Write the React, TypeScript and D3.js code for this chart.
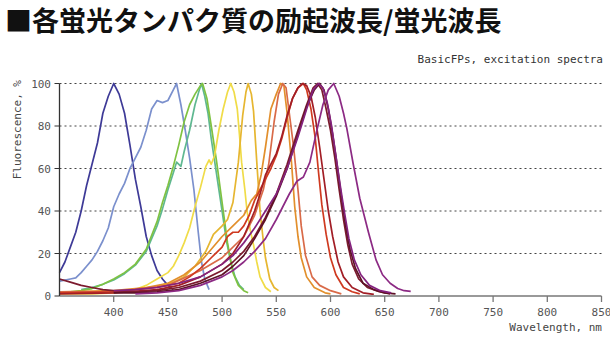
import React from "react";
import * as d3 from "d3";

const W = 610;
const H = 338;

const titleText = "■各蛍光タンパク質の励起波長/蛍光波長";
const subtitleText = "BasicFPs, excitation spectra";
const xTitle = "Wavelength, nm";
const yTitle = "Fluorescence, %";
const xTicks = [400, 450, 500, 550, 600, 650, 700, 750, 800, 850];
const yTicks = [0, 20, 40, 60, 80, 100];

type P = [number, number];

const indigo: P[] = [[350,11],[355,16],[360,23],[365,30],[370,40],[375,52],[380,62],[385,72],[390,86],[395,94],[400,100],[405,95],[410,86],[415,71],[420,55],[425,42],[430,28],[435,19],[440,12],[445,8],[450,5],[455,3]];
const lightBlue: P[] = [[350,7],[355,7.5],[360,8],[365,8.5],[370,11],[375,14],[380,17],[385,21],[390,26],[395,32],[400,42],[405,48],[410,53],[415,60],[420,65],[425,70],[430,78],[435,88],[440,92],[445,91],[450,92],[455,97],[458,100],[462,90],[466,78],[470,65],[474,50],[478,30],[481,16],[484,8],[488,3]];
const green: P[] = [[350,1.5],[360,2],[370,2.5],[380,3.5],[390,5.5],[400,8],[410,11],[420,15],[430,22],[440,35],[445,44],[450,52],[455,61],[460,71],[465,82],[470,90],[475,95],[480,99],[482,100],[486,93],[490,80],[495,63],[500,44],[505,25],[510,11],[515,5],[520,2.5],[524,1.5]];
const teal: P[] = [[370,3],[380,4],[390,5.5],[400,7.5],[410,10.5],[420,14.5],[430,21],[440,33],[445,41],[450,50],[455,58],[458,63],[462,61],[465,68],[470,78],[475,90],[479,97],[481,100],[484,94],[487,86],[490,74],[495,57],[500,40],[504,26],[508,16],[512,9],[516,5],[520,3]];
const yellow: P[] = [[350,1],[380,1],[400,1.5],[420,3],[430,5],[440,8],[450,11],[455,14],[460,19],[465,25],[470,32],[475,42],[480,51],[485,61],[488,64],[490,62],[493,66],[497,78],[501,88],[505,96],[508,100],[511,96],[514,88],[516,76],[518,63],[521,50],[523,40],[526,31],[529,24],[532,16],[535,9],[540,4],[545,2]];
const gold: P[] = [[350,1.5],[380,1.5],[400,2],[420,3],[440,4.5],[455,6.5],[465,9],[475,14],[485,21],[492,29],[500,33],[505,36],[510,44],[515,63],[519,85],[522,96],[524,100],[527,95],[529,87],[532,63],[535,40],[538,26],[540,18],[544,8],[548,4],[552,2.5]];
const orange: P[] = [[350,2],[400,2.5],[430,4],[450,6],[465,10],[480,16],[490,22],[500,28],[510,33],[520,38],[527,45],[532,48],[536,57],[540,70],[545,88],[550,95],[554,100],[557,99],[560,86],[564,63],[567,42],[570,28],[573,18],[578,9],[585,4],[595,1.5],[600,1]];
const coral: P[] = [[350,2],[400,2],[450,5],[480,12],[500,18],[520,28],[530,38],[538,50],[543,62],[548,82],[552,95],[556,100],[559,98],[562,86],[566,70],[570,50],[573,33],[577,19],[583,9],[590,5],[600,2.5],[610,1]];
const red: P[] = [[350,1.5],[400,2],[440,4],[460,6],[470,9],[480,13],[490,18],[500,23],[505,28],[510,30],[515,30],[520,33],[525,38],[530,45],[535,50],[540,55],[545,60],[550,66],[555,74],[560,84],[565,93],[570,98],[575,100],[578,97],[582,88],[586,74],[589,58],[592,43],[596,29],[600,18],[605,10],[612,4],[620,2],[627,1]];
const darkRed: P[] = [[350,1],[400,1.5],[440,3],[460,5],[480,9],[500,15],[510,20],[520,28],[530,40],[535,48],[540,57],[545,62],[550,67],[555,75],[560,85],[565,93],[570,98],[574,100],[578,99],[582,94],[586,84],[590,70],[594,55],[598,40],[602,28],[607,16],[612,9],[620,4],[630,1.5],[640,0.8]];
const maroon: P[] = [[350,8],[360,6.5],[370,5],[380,4],[390,3],[400,2.5],[420,2],[440,2.5],[460,4],[480,7],[500,12],[510,16],[520,21],[530,28],[540,37],[550,48],[560,62],[570,78],[578,90],[584,98],[588,100],[592,97],[596,88],[600,78],[604,65],[608,50],[612,36],[616,24],[620,15],[626,8],[634,4],[645,2],[655,1]];
const darkMaroon: P[] = [[400,1.5],[420,1.5],[440,2],[460,3],[480,6],[500,10],[510,14],[520,19],[530,27],[540,36],[550,47],[560,60],[570,76],[578,89],[585,97],[590,100],[594,97],[598,88],[602,76],[606,62],[610,47],[614,33],[618,22],[623,13],[630,6],[640,3],[650,1.5],[660,1]];
const purple: P[] = [[400,2.5],[420,3],[440,4],[460,6],[480,9],[500,15],[510,19],[520,25],[530,32],[540,40],[550,48],[560,60],[570,75],[578,88],[584,97],[589,100],[593,98],[597,91],[601,80],[605,66],[609,52],[613,39],[617,27],[622,17],[628,10],[636,5],[646,2.5],[656,1.5]];
const purple2: P[] = [[420,1],[440,1.5],[460,2.5],[480,5],[500,9],[510,12],[520,16],[530,21],[540,27],[550,36],[556,42],[562,48],[569,54],[575,56],[581,63],[587,77],[593,90],[598,97],[603,100],[608,94],[612,86],[615,79],[621,62],[627,46],[635,30],[642,17],[648,10],[655,6],[662,3.5],[668,2.5],[674,2.2]];

const series: { data: P[]; color: string }[] = [
  { data: indigo, color: "#3e3a97" },
  { data: lightBlue, color: "#7b90cd" },
  { data: teal, color: "#5fb891" },
  { data: green, color: "#7fc242" },
  { data: yellow, color: "#f0dc48" },
  { data: gold, color: "#e6b630" },
  { data: orange, color: "#e28f2c" },
  { data: coral, color: "#d96a48" },
  { data: red, color: "#cf3a20" },
  { data: darkRed, color: "#a21e26" },
  { data: maroon, color: "#7c1a2e" },
  { data: darkMaroon, color: "#5e1226" },
  { data: purple, color: "#84227e" },
  { data: purple2, color: "#8c2a84" },
];

const MONO = "'DejaVu Sans Mono', monospace";

export default function App() {
  const x = d3.scaleLinear().domain([350, 850]).range([59.5, 601.5]);
  const y = d3.scaleLinear().domain([0, 100]).range([296, 83.5]);
  const line = d3
    .line<P>()
    .x((d) => x(d[0]))
    .y((d) => y(d[1]));

  return (
    <svg
      width={W}
      height={H}
      style={{ position: "absolute", left: 0, top: 0, background: "#fff" }}
    >
      <text
        x={5}
        y={31}
        fontFamily="'Noto Sans CJK JP', sans-serif"
        fontWeight={700}
        fontSize={27}
        fill="#111"
      >
        {titleText}
      </text>
      <text x={603} y={63} textAnchor="end" fontFamily={MONO} fontSize={11} fill="#333">
        {subtitleText}
      </text>
      {yTicks.filter((t) => t > 0).map((t) => (
        <line
          key={"g" + t}
          x1={x(350)}
          x2={x(850)}
          y1={y(t)}
          y2={y(t)}
          stroke="#444"
          strokeWidth={1}
          strokeDasharray="2,3"
        />
      ))}
      {series.map((s, i) => (
        <path
          key={i}
          d={line(s.data) || ""}
          fill="none"
          stroke={s.color}
          strokeWidth={1.7}
          strokeLinejoin="round"
        />
      ))}
      <line x1={x(350)} x2={x(850)} y1={y(0)} y2={y(0)} stroke="#999" strokeWidth={2} />
      {xTicks.map((t) => (
        <g key={"x" + t}>
          <line x1={x(t)} x2={x(t)} y1={y(0)} y2={y(0) + 6} stroke="#777" strokeWidth={1.3} />
          <text x={x(t)} y={316} textAnchor="middle" fontFamily={MONO} fontSize={11} fill="#555">
            {t}
          </text>
        </g>
      ))}
      <line x1={x(350)} x2={x(350)} y1={y(100)} y2={y(0)} stroke="#333" strokeWidth={1.3} />
      {yTicks.map((t) => (
        <g key={"y" + t}>
          <line x1={x(350) - 5} x2={x(350)} y1={y(t)} y2={y(t)} stroke="#333" strokeWidth={1} />
          <text x={51} y={y(t) + 4} textAnchor="end" fontFamily={MONO} fontSize={11} fill="#555">
            {t}
          </text>
        </g>
      ))}
      <text
        transform={`translate(21,80) rotate(-90)`}
        textAnchor="end"
        fontFamily={MONO}
        fontSize={11}
        fill="#444"
      >
        {yTitle}
      </text>
      <text x={602} y={331} textAnchor="end" fontFamily={MONO} fontSize={11} fill="#444">
        {xTitle}
      </text>
    </svg>
  );
}
